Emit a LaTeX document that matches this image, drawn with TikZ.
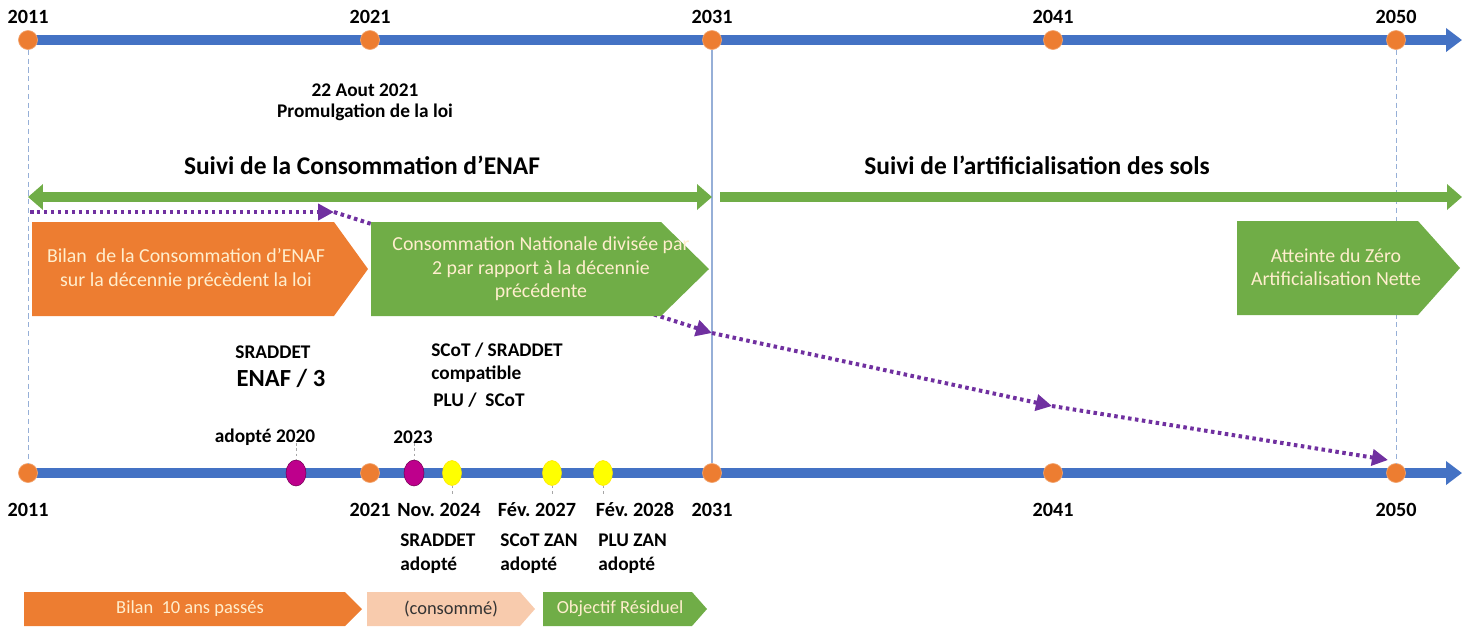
\documentclass[tikz,border=0pt]{standalone}
\usepackage{fontspec}
\setmainfont{Carlito}
\usetikzlibrary{arrows.meta,shapes.geometric}
\frenchspacing
\definecolor{blueline}{RGB}{68,114,196}
\definecolor{orangeC}{RGB}{237,125,49}
\definecolor{greenC}{RGB}{112,173,71}
\definecolor{purpleC}{RGB}{112,48,160}
\definecolor{magentaC}{RGB}{190,0,140}
\definecolor{yellowC}{RGB}{255,255,0}
\definecolor{salmonC}{RGB}{248,203,173}
\definecolor{vlineC}{RGB}{150,175,215}
\definecolor{boxtext}{RGB}{255,238,205}
\begin{document}
\begin{tikzpicture}[x=0.02cm,y=-0.02cm,
  timeline/.style={draw=blueline,line width=0.2cm,-{Triangle[length=0.32cm,width=0.46cm]}},
  garrowR/.style={draw=greenC,line width=0.2cm,-{Triangle[length=0.3cm,width=0.5cm]}},
  garrowLR/.style={draw=greenC,line width=0.2cm,{Triangle[length=0.3cm,width=0.5cm]}-{Triangle[length=0.3cm,width=0.5cm]}},
  pdots/.style={draw=purpleC,line width=0.08cm,dash pattern=on 0.07cm off 0.07cm,-{Triangle[length=0.32cm,width=0.32cm,fill=purpleC]}},
  odot/.style={circle,fill=orangeC,draw=orangeC!70!white,line width=0.4pt,minimum size=0.38cm,inner sep=0pt},
  mdot/.style={ellipse,fill=magentaC,draw=magentaC!60!black,line width=0.3pt,minimum width=0.4cm,minimum height=0.52cm,inner sep=0pt},
  ydot/.style={ellipse,fill=yellowC,draw=yellowC!80!orange,line width=0.3pt,minimum width=0.38cm,minimum height=0.5cm,inner sep=0pt},
  year/.style={font=\fontsize{11.5}{13}\selectfont\bfseries,inner sep=0pt},
  lbl/.style={font=\fontsize{11}{13}\selectfont\bfseries,inner sep=0pt},
  lblL/.style={font=\fontsize{11}{13}\selectfont\bfseries,inner sep=0pt,anchor=west},
  title/.style={font=\fontsize{14.5}{17}\selectfont\bfseries,inner sep=0pt},
  boxlbl/.style={font=\fontsize{11.3}{13.3}\selectfont,text=boxtext,align=center,inner sep=0pt},
  smlbl/.style={font=\fontsize{10.5}{13}\selectfont,inner sep=0pt},
  vdash/.style={draw=vlineC,line width=0.5pt,dash pattern=on 3pt off 2pt},
  vsolid/.style={draw=vlineC,line width=0.6pt},
  tick/.style={draw=gray!70,line width=0.5pt,dash pattern=on 1.5pt off 1.5pt}
]
\useasboundingbox (0,0) rectangle (1470,627);

% ---------- top timeline ----------
\coordinate (ts) at (22,40);
\coordinate (te) at (1462,40);
\draw[timeline] (ts) -- (te);
\node[odot] (a2011) at (28,40) {};
\node[odot] (a2021) at (370,40) {};
\node[odot] (a2031) at (712,40) {};
\node[odot] (a2041) at (1053,40) {};
\node[odot] (a2050) at (1396,40) {};
\node[year] (ty2011) at (28,17) {2011};
\node[year] (ty2021) at (370,17) {2021};
\node[year] (ty2031) at (712,17) {2031};
\node[year] (ty2041) at (1053,17) {2041};
\node[year] (ty2050) at (1396,17) {2050};

% ---------- bottom timeline ----------
\coordinate (bs) at (20,473);
\coordinate (be) at (1462,473);
\draw[timeline] (bs) -- (be);
\node[odot] (b2011) at (28,473) {};
\node[odot] (b2021) at (370,473) {};
\node[odot] (b2031) at (712,473) {};
\node[odot] (b2041) at (1053,473) {};
\node[odot] (b2050) at (1396,473) {};
\node[mdot] (m2020) at (296,473) {};
\node[mdot] (m2023) at (414,473) {};
\node[ydot] (y2024) at (452,473) {};
\node[ydot] (y2027) at (552,473) {};
\node[ydot] (y2028) at (603,473) {};

% vertical guide lines
\draw[vdash] (a2011) -- (b2011);
\draw[vsolid] (a2031) -- (b2031);
\draw[vdash] (a2050) -- (b2050);

% ticks
\coordinate (k1a) at (296,443); \draw[tick] (k1a) -- (m2020);
\coordinate (k2a) at (414,443); \draw[tick] (k2a) -- (m2023);
\coordinate (k3a) at (452,496); \draw[tick] (y2024) -- (k3a);
\coordinate (k4a) at (552,496); \draw[tick] (y2027) -- (k4a);
\coordinate (k5a) at (603,496); \draw[tick] (y2028) -- (k5a);

% bottom year labels
\node[year] (by2011) at (28,510) {2011};
\node[year] (by2021) at (370,510) {2021};
\node[year] (byNov) at (439,510) {Nov. 2024};
\node[year] (byF27) at (537,510) {Fév. 2027};
\node[year] (byF28) at (635,510) {Fév. 2028};
\node[year] (by2031) at (712,510) {2031};
\node[year] (by2041) at (1053,510) {2041};
\node[year] (by2050) at (1396,510) {2050};
\node[lblL] (s1a) at (400,540) {SRADDET};
\node[lblL] (s1b) at (400,565) {adopté};
\node[lblL] (s2a) at (500,540) {SCoT ZAN};
\node[lblL] (s2b) at (500,565) {adopté};
\node[lblL] (s3a) at (598,540) {PLU ZAN};
\node[lblL] (s3b) at (598,565) {adopté};

% ---------- labels upper middle ----------
\node[lbl] (law1) at (365,90) {22 Aout 2021};
\node[lbl] (law2) at (365,112) {Promulgation de la loi};
\node[title] (t1) at (362,165) {Suivi de la Consommation d’ENAF};
\node[title] (t2) at (1037,165) {Suivi de l’artificialisation des sols};

% green arrows
\coordinate (g0) at (28,197); \coordinate (g1) at (712,197);
\draw[garrowLR] (g0) -- (g1);
\coordinate (g2) at (720,197); \coordinate (g3) at (1462,197);
\draw[garrowR] (g2) -- (g3);

% purple dotted path
\coordinate (p0) at (30,212);
\coordinate (p1) at (334,212);
\coordinate (p2) at (712,333);
\coordinate (p3) at (1052,406);
\coordinate (p4) at (1388,460);
\draw[pdots] (p0) -- (p1);
\draw[pdots] (p1) -- (p2);
\draw[pdots] (p2) -- (p3);
\draw[pdots] (p3) -- (p4);

% pentagon boxes
\fill[orangeC] (32,222) -- (334,222) -- (368,269) -- (334,316) -- (32,316) -- cycle;
\node[boxlbl] (bilan) at (186,269) {Bilan\ \ de la Consommation d’ENAF\\sur la décennie précèdent la loi};
\fill[greenC] (371,222) -- (661,222) -- (709,269) -- (661,316) -- (371,316) -- cycle;
\node[boxlbl] (conso) at (541,269) {Consommation Nationale divisée par\\2 par rapport à la décennie\\précédente};
\fill[greenC] (1237,221) -- (1418,221) -- (1460,268) -- (1418,315) -- (1237,315) -- cycle;
\node[boxlbl] (zan) at (1336,267) {Atteinte du Zéro\\Artificialisation Nette};

% middle labels
\node[lbl] (sr1) at (273,352) {SRADDET};
\node[font=\fontsize{14}{16}\selectfont\bfseries,inner sep=0pt] (sr2) at (281,378) {ENAF / 3};
\node[lblL] (sc1) at (431,350) {SCoT / SRADDET};
\node[lblL] (sc2) at (431,374) {compatible};
\node[lblL] (sc3) at (433,400) {PLU /\ \ SCoT};
\node[lbl] (ad20) at (265,437) {adopté 2020};
\node[lbl] (ad23) at (413,437) {2023};

% ---------- bottom arrows ----------
\fill[orangeC] (24,592) -- (345,592) -- (362,609) -- (345,626) -- (24,626) -- cycle;
\node[smlbl,text=boxtext] (bil10) at (190,609) {Bilan\ \ 10 ans passés};
\fill[salmonC] (367,592) -- (520,592) -- (535,609) -- (520,626) -- (367,626) -- cycle;
\node[smlbl,text=black!80] (consm) at (451,609) {(consommé)};
\fill[greenC] (543,592) -- (692,592) -- (707,609) -- (692,626) -- (543,626) -- cycle;
\node[smlbl,text=boxtext] (objr) at (620,609) {Objectif Résiduel};
\end{tikzpicture}
\end{document}
